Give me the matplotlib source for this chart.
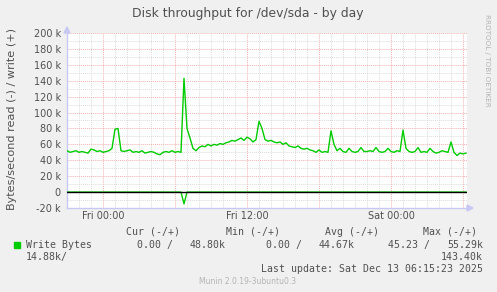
import numpy as np
import pandas as pd
import matplotlib
matplotlib.use('Agg')
import matplotlib.pyplot as plt
import matplotlib.dates as mdates
from matplotlib.ticker import MultipleLocator, FuncFormatter
from matplotlib.patches import Rectangle, Polygon

# 15-minute samples, Thu 21:00 -> Sat 06:15 (kB/s)
start = '2025-12-11 21:00'
write_k = [
    52, 50, 51, 52,   50, 51, 50, 49,   54, 53, 51, 52,
    50, 51, 52, 55,   79, 80, 52, 51,   52, 53, 50, 51,
    50, 52, 49, 50,   51, 50, 48, 47,   50, 51, 50, 52,
    50, 51, 50, 143,  80, 68, 55, 52,   56, 58, 57, 60,
    58, 60, 59, 61,   60, 62, 63, 65,   64, 66, 68, 65,
    69, 67, 63, 66,   89, 80, 66, 64,   65, 63, 62, 63,
    60, 62, 58, 57,   56, 58, 55, 54,   55, 53, 52, 50,
    53, 50, 51, 50,   77, 60, 52, 55,   51, 50, 55, 51,
    50, 51, 56, 51,   51, 52, 51, 56,   51, 50, 51, 55,
    51, 50, 52, 51,   78, 55, 51, 50,   51, 56, 50, 51,
    50, 55, 51, 49,   50, 52, 51, 50,   63, 50, 46, 49,
    48, 49,
]
read_k = [0.0] * 39 + [14.88] + [0.0] * 94

times = pd.date_range(start, periods=len(write_k), freq='15min')
write = np.array(write_k) * 1000
read = -np.array(read_k) * 1000

legend_head = ['Cur (-/+)', 'Min (-/+)', 'Avg (-/+)', 'Max (-/+)']
legend_vals = [('0.00 /', '48.80k'), ('0.00 /', '44.67k'), ('45.23 /', '55.29k'), ('14.88k/', '143.40k')]

W, H = 497, 292
txt = '#505050'
green = '#00cc00'

fig = plt.figure(figsize=(W / 100, H / 100), dpi=100, facecolor='#f0f0f0')
ax = fig.add_axes([67 / W, 1 - 208 / H, 400 / W, 175 / H])
ax.set_facecolor('white')

ax.plot(times, write, color=green, lw=1, zorder=3)
ax.plot(times, read, color=green, lw=1, zorder=3)
ax.axhline(0, color='black', lw=1, zorder=4)

ax.set_xlim(pd.Timestamp(start), pd.Timestamp('2025-12-13 06:20'))
ax.set_ylim(-20000, 200000)

ax.yaxis.set_major_locator(MultipleLocator(20000))
ax.yaxis.set_minor_locator(MultipleLocator(10000))
ax.yaxis.set_major_formatter(FuncFormatter(lambda v, p: '0' if v == 0 else '%d k' % (v / 1000)))
ax.xaxis.set_major_locator(mdates.HourLocator(byhour=[0, 6, 12, 18]))
ax.xaxis.set_minor_locator(mdates.HourLocator())
ax.xaxis.set_major_formatter(FuncFormatter(
    lambda v, p: mdates.num2date(v).strftime('%a %H:%M') if mdates.num2date(v).hour in (0, 12) else ''))

ax.grid(which='minor', color='#dcdcdc', ls=(0, (1, 1)), lw=0.7)
ax.grid(which='major', color='#f4b0b0', ls=(0, (1, 1)), lw=0.7)
ax.set_axisbelow(True)
ax.tick_params(which='both', length=0, labelsize=7, colors=txt)
ax.tick_params(axis='y', pad=4.5)
ax.tick_params(axis='x', pad=2.5)

for s in ['top', 'right']:
    ax.spines[s].set_visible(False)
for s in ['left', 'bottom']:
    ax.spines[s].set_color('#c8c8f4')
    ax.spines[s].set_linewidth(1)

def fx(px):
    return px / W

def fy(py):
    return 1 - py / H

# axis arrows
fig.patches.append(Polygon([(fx(64), fy(33)), (fx(70), fy(33)), (fx(67), fy(27))], closed=True,
                           color='#c8c8f4', transform=fig.transFigure))
fig.patches.append(Polygon([(fx(467), fy(205)), (fx(467), fy(211)), (fx(473), fy(208))], closed=True,
                           color='#c8c8f4', transform=fig.transFigure))

fig.text(fx(248), fy(14), 'Disk throughput for /dev/sda - by day', ha='center', va='center',
         fontsize=8.9, color=txt)
fig.text(fx(12), fy(119), 'Bytes/second read (-) / write (+)', ha='center', va='center',
         rotation=90, fontsize=8.1, color=txt)
fig.text(fx(487), fy(60), 'RRDTOOL / TOBI OETIKER', ha='center', va='center',
         rotation=270, fontsize=5.2, color='#b4b4b4')

mono = dict(family='DejaVu Sans Mono', fontsize=7.1, color=txt, va='center')
for x, h in zip([126, 226, 325, 423], legend_head):
    fig.text(fx(x), fy(232), h, ha='left', **mono)
fig.patches.append(Rectangle((fx(14), fy(248)), 6 / W, 6 / H, color=green, transform=fig.transFigure))
fig.text(fx(26), fy(245), 'Write Bytes', ha='left', **mono)
for (a, b), xa, xb in zip(legend_vals[:3], [137, 266, 388], [226, 355, 483]):
    fig.text(fx(xa), fy(245), a, ha='left', **mono)
    fig.text(fx(xb), fy(245), b, ha='right', **mono)
fig.text(fx(26), fy(257), legend_vals[3][0], ha='left', **mono)
fig.text(fx(483), fy(257), legend_vals[3][1], ha='right', **mono)
fig.text(fx(483), fy(268.5), 'Last update: Sat Dec 13 06:15:23 2025', ha='right', **mono)
fig.text(fx(248), fy(281), 'Munin 2.0.19-3ubuntu0.3', ha='center', va='center',
         fontsize=5.5, color='#b4b4b4')

fig.savefig('out.png', dpi=100, facecolor=fig.get_facecolor())
